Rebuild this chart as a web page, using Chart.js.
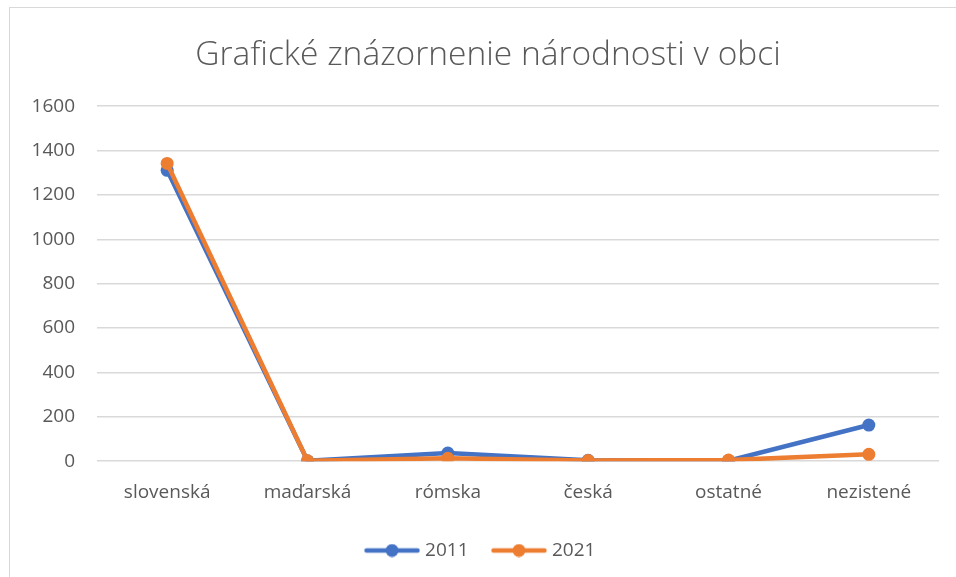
<!DOCTYPE html>
<html>
<head>
<meta charset="utf-8">
<script src="https://cdn.jsdelivr.net/npm/chart.js@4/dist/chart.umd.min.js"></script>
<style>
  html, body { margin: 0; padding: 0; background: #ffffff; overflow: hidden; }
  #wrap { position: relative; width: 956px; height: 577px; }
  #frame { position: absolute; left: 9px; top: 7px; width: 1000px; height: 700px; border: 1.5px solid #d9d9d9; box-sizing: border-box; }
  #c { position: absolute; left: 0; top: 0; }
</style>
</head>
<body>
<div id="wrap">
  <div id="frame"></div>
  <canvas id="c" width="956" height="577"></canvas>
</div>
<script>
const categories = ["slovenská", "maďarská", "rómska", "česká", "ostatné", "nezistené"];
const values2011 = [1311, 2, 37, 4, 2, 163];
const values2021 = [1342, 2, 13, 3, 5, 31];
const seriesLabels = ["2011", "2021"];
const yTicks = [0, 200, 400, 600, 800, 1000, 1200, 1400, 1600];
const titleText = "Grafické znázornenie národnosti v obci";

const BLUE = "#4472C4";
const ORANGE = "#ED7D31";
const TEXT = "#595959";
const FONT = "'Open Sans', 'Liberation Sans', sans-serif";

function legendIcon(color) {
  const cv = document.createElement("canvas");
  cv.width = 56; cv.height = 14;
  const g = cv.getContext("2d");
  g.strokeStyle = color; g.lineWidth = 4.5; g.lineCap = "round";
  g.beginPath(); g.moveTo(2.5, 7); g.lineTo(53.5, 7); g.stroke();
  g.fillStyle = color;
  g.beginPath(); g.arc(28, 7, 6.5, 0, Math.PI * 2); g.fill();
  return cv;
}
const icons = [legendIcon(BLUE), legendIcon(ORANGE)];

const shiftBlocks = {
  id: "shiftBlocks",
  afterLayout(chart) {
    if (chart.titleBlock) { chart.titleBlock.left += 14; chart.titleBlock.right += 14; }
    if (chart.legend) { chart.legend.left += 8; chart.legend.right += 8; }
  }
};

new Chart(document.getElementById("c"), {
  type: "line",
  data: {
    labels: categories,
    datasets: [
      { label: seriesLabels[0], data: values2011, borderColor: BLUE, backgroundColor: BLUE,
        borderWidth: 4.5, pointRadius: 6.5, pointHoverRadius: 6.5, pointBorderWidth: 0, order: 1, tension: 0 },
      { label: seriesLabels[1], data: values2021, borderColor: ORANGE, backgroundColor: ORANGE,
        borderWidth: 4.5, pointRadius: 6.5, pointHoverRadius: 6.5, pointBorderWidth: 0, order: 0, tension: 0 }
    ]
  },
  plugins: [shiftBlocks],
  options: {
    responsive: false,
    animation: false,
    devicePixelRatio: 1,
    layout: { padding: { left: 9, right: 17, top: 0, bottom: 7 } },
    plugins: {
      title: {
        display: true, text: titleText, color: TEXT,
        font: { family: FONT, size: 33.5, weight: 300 },
        padding: { top: 35, bottom: 31 }
      },
      legend: {
        display: true, position: "bottom",
        labels: {
          color: TEXT, font: { family: FONT, size: 19 },
          usePointStyle: true, pointStyleWidth: 47, padding: 27,
          generateLabels(chart) {
            return chart.data.datasets.map((ds, i) => ({
              text: ds.label, pointStyle: icons[i], fillStyle: ds.borderColor,
              strokeStyle: ds.borderColor, lineWidth: 0, hidden: false, datasetIndex: i, fontColor: TEXT
            }));
          }
        }
      },
      tooltip: { enabled: false }
    },
    scales: {
      x: {
        offset: true,
        afterFit(axis) { axis.height = axis.height - 10; },
        grid: { display: false, drawTicks: false },
        border: { display: false },
        ticks: { color: TEXT, font: { family: FONT, size: 19 }, padding: 20, maxRotation: 0 }
      },
      y: {
        min: 0, max: 1600,
        afterBuildTicks(axis) { axis.ticks = yTicks.map(v => ({ value: v })); },
        afterFit(axis) { axis.width = 88; },
        grid: { color: "#d9d9d9", lineWidth: 1.5, drawTicks: false },
        border: { display: false },
        ticks: { color: TEXT, font: { family: FONT, size: 19 }, padding: 22, callback: v => String(v) }
      }
    }
  }
});
</script>
</body>
</html>
